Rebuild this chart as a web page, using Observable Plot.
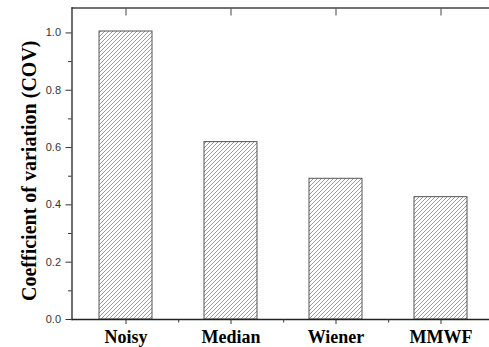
<!DOCTYPE html>
<html>
<head>
<meta charset="utf-8">
<script src="https://cdn.jsdelivr.net/npm/d3@7"></script>
<script src="https://cdn.jsdelivr.net/npm/@observablehq/plot@0.6"></script>
<style>
  html, body { margin: 0; padding: 0; background: #fff; overflow: hidden; }
</style>
</head>
<body>
<div id="chart"></div>
<script>
const categories = ["Noisy", "Median", "Wiener", "MMWF"];
const cov = [1.005, 0.619, 0.491, 0.427];
const yMajorTicks = [0, 0.2, 0.4, 0.6, 0.8, 1.0];
const yMinorTicks = [0.1, 0.3, 0.5, 0.7, 0.9];
const yLabel = "Coefficient of variation (COV)";

const data = categories.map((c, i) => ({category: c, value: cov[i]}));

const W = 489, H = 347;
const mL = 71.5, mR = -4, mT = 7.5, mB = 28;
const yTop = 1.087;
const step = (W - mL - mR) / categories.length;
const pxPerUnit = (H - mT - mB) / yTop;

const plot = Plot.plot({
  width: W,
  height: H,
  marginLeft: mL,
  marginRight: mR,
  marginTop: mT,
  marginBottom: mB,
  style: {background: "#fff", overflow: "visible"},
  x: {domain: categories, paddingInner: 0.5, paddingOuter: 0.25, label: null},
  y: {domain: [0, yTop], label: null},
  marks: [
    Plot.barY(data, {x: "category", y: "value", fill: "url(#hatch)", stroke: "#555", strokeWidth: 1}),
    // frame lines
    Plot.ruleY([0], {stroke: "#222", strokeWidth: 1.3}),
    Plot.ruleY([yTop], {stroke: "#444", strokeWidth: 1.3}),
    Plot.frame({anchor: "left", stroke: "#222", strokeWidth: 1.3}),
    // y axis
    Plot.axisY({ticks: yMajorTicks, tickFormat: d3.format(".1f"), tickSize: 6, tickPadding: 5,
      fontFamily: "Liberation Sans, Arial, sans-serif", fontSize: 11, fill: "#333", stroke: "#333",
      label: null}),
    Plot.axisY({ticks: yMinorTicks, tickFormat: () => "", tickSize: 3.5, stroke: "#333", label: null}),
    // x axis
    Plot.axisX({tickSize: 5, tickPadding: 6, fontFamily: "Liberation Serif, Times New Roman, serif",
      fontSize: 18, fontWeight: "bold", fill: "#000", stroke: "#333", label: null}),
    Plot.axisX({anchor: "top", tickSize: -7, tickFormat: () => "", stroke: "#444", label: null}),
    Plot.ruleX(categories.slice(0, -1), {x: d => d, dx: step / 2, y1: 0, y2: -3.5 / pxPerUnit, stroke: "#333"}),
    // y label
    Plot.text([yLabel], {frameAnchor: "left", dx: -42.5, dy: 7, rotate: -90, textAnchor: "middle", text: d => d,
      fontFamily: "Liberation Serif, Times New Roman, serif", fontSize: 20, fontWeight: "bold", fill: "#000"})
  ]
});

const svg = d3.select(plot);
const defs = svg.insert("defs", ":first-child");
const pat = defs.append("pattern").attr("id", "hatch").attr("patternUnits", "userSpaceOnUse")
  .attr("width", 4).attr("height", 4);
pat.append("rect").attr("width", 4).attr("height", 4).attr("fill", "#fff");
pat.append("path").attr("d", "M-1,1 l2,-2 M0,4 l4,-4 M3,5 l2,-2")
  .attr("stroke", "#8c8c8c").attr("stroke-width", 0.9);

document.getElementById("chart").appendChild(plot);
</script>
</body>
</html>
